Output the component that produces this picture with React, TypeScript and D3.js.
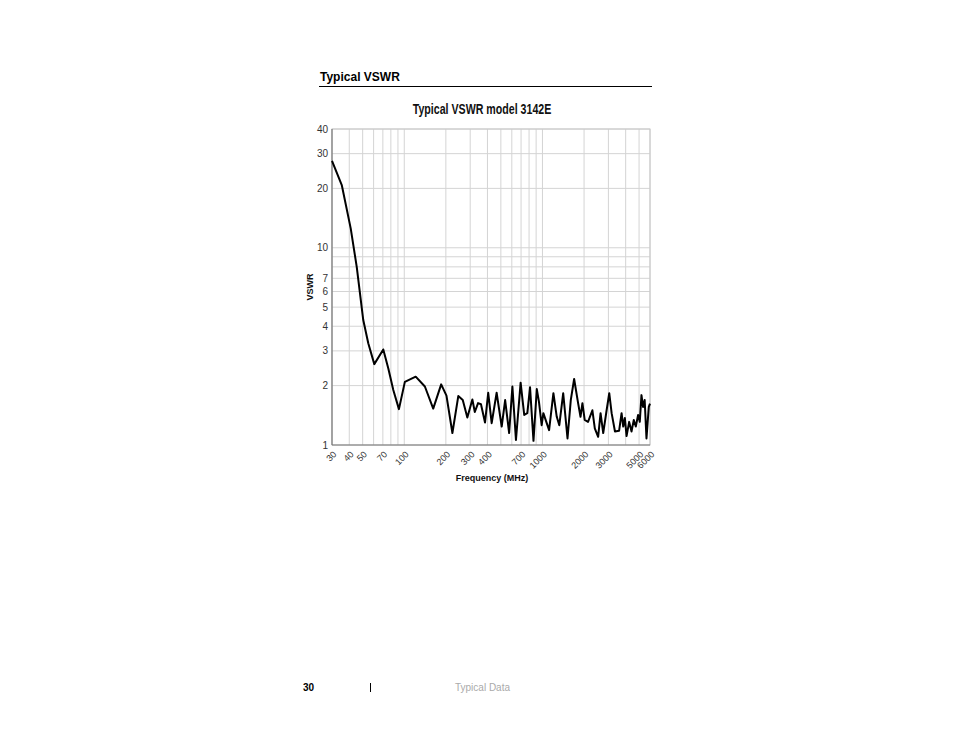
import React from 'react';
import * as d3 from 'd3';

// readings taken off the published plot (MHz, VSWR)
const freqs = [30, 35.3, 41, 45.3, 50.5, 54.9, 60.7, 70.5, 76.6, 83.3, 91.5, 101, 121, 141, 162, 185, 202, 223, 246, 265, 286, 311, 324, 342, 359, 384, 405, 429, 466, 507, 537, 574, 606, 643, 695, 738, 777, 813, 861, 910, 943, 987, 1015, 1117, 1200, 1269, 1324, 1413, 1518, 1603, 1695, 1811, 1885, 1946, 2021, 2137, 2298, 2392, 2529, 2633, 2752, 2912, 3043, 3166, 3348, 3585, 3737, 3840, 3947, 4060, 4240, 4410, 4580, 4736, 4920, 5060, 5205, 5346, 5490, 5658, 5880, 6000];
const vswr = [27.6, 20.8, 12.5, 8.0, 4.3, 3.28, 2.57, 3.05, 2.45, 1.9, 1.52, 2.09, 2.22, 1.98, 1.53, 2.03, 1.78, 1.15, 1.77, 1.69, 1.38, 1.7, 1.47, 1.63, 1.61, 1.3, 1.84, 1.29, 1.84, 1.24, 1.69, 1.15, 1.98, 1.06, 2.07, 1.42, 1.45, 1.96, 1.05, 1.92, 1.66, 1.26, 1.45, 1.19, 1.83, 1.39, 1.26, 1.83, 1.08, 1.69, 2.16, 1.63, 1.39, 1.63, 1.34, 1.31, 1.5, 1.215, 1.1, 1.45, 1.15, 1.5, 1.83, 1.45, 1.17, 1.18, 1.45, 1.24, 1.37, 1.11, 1.31, 1.17, 1.34, 1.24, 1.42, 1.31, 1.79, 1.56, 1.69, 1.08, 1.56, 1.62];

const xTickLabels = [30, 40, 50, 70, 100, 200, 300, 400, 700, 1000, 2000, 3000, 5000, 6000];
const xGrid = [40, 50, 60, 70, 80, 90, 100, 200, 300, 400, 500, 600, 700, 800, 900, 1000, 2000, 3000, 4000, 5000, 6000];
const yTickLabels = [1, 2, 3, 4, 5, 6, 7, 10, 20, 30, 40];
const yGrid = [2, 3, 4, 5, 6, 7, 8, 9, 10, 20, 30, 40];

const font = '"Liberation Sans", Arial, sans-serif';

export default function App() {
  const left = 332, right = 650, top = 129, bottom = 445;

  const x = d3.scaleLog().domain([30, 6000]).range([left, right]);
  const y = d3.scaleLog().domain([1, 40]).range([bottom, top]);

  const pts = freqs.map((f, i) => [f, vswr[i]] as [number, number]);
  const line = d3.line<[number, number]>()
    .x(d => x(d[0]))
    .y(d => y(d[1]));

  return (
    <div style={{ position: 'absolute', left: 0, top: 0 }}>
      <svg width={954} height={738} style={{ display: 'block', background: '#fff' }}>
        {/* page header */}
        <text x={320} y={81} fontFamily={font} fontWeight="bold" fontSize={12} fill="#000">Typical VSWR</text>
        <line x1={319} x2={652} y1={86.5} y2={86.5} stroke="#000" strokeWidth={1} />

        {/* chart title, condensed like the original */}
        <text transform="translate(482,114) scale(0.76,1)" textAnchor="middle" fontFamily={font}
          fontWeight="bold" fontSize={14} fill="#111">
          Typical VSWR model 3142E
        </text>

        {/* grid */}
        {yGrid.map(v => (
          <line key={'gy' + v} x1={left} x2={right} y1={y(v)} y2={y(v)} stroke="#d4d4d4" strokeWidth={1} />
        ))}
        {xGrid.map(f => (
          <line key={'gx' + f} x1={x(f)} x2={x(f)} y1={top} y2={bottom} stroke="#d4d4d4" strokeWidth={1} />
        ))}
        <rect x={left} y={top} width={right - left} height={bottom - top} fill="none" stroke="#c8c8c8" />
        <line x1={left} x2={left} y1={top} y2={bottom} stroke="#777" strokeWidth={1.2} />
        <line x1={left} x2={right} y1={bottom} y2={bottom} stroke="#777" strokeWidth={1.2} />

        {/* y tick labels */}
        {yTickLabels.map(v => (
          <text key={'yl' + v} x={328} y={y(v) + 3.5} textAnchor="end" fontFamily={font} fontSize={10} fill="#333">{v}</text>
        ))}
        <text transform={`translate(313,${(top + bottom) / 2}) rotate(-90)`} textAnchor="middle"
          fontFamily={font} fontWeight="bold" fontSize={9} fill="#111">VSWR</text>

        {/* x tick labels */}
        {xTickLabels.map(f => (
          <text key={'xl' + f} transform={`translate(${x(f) + 5},${bottom + 10}) rotate(-45)`} textAnchor="end"
            fontFamily={font} fontSize={9} fill="#333">{f}</text>
        ))}
        <text x={492} y={481} textAnchor="middle" fontFamily={font} fontWeight="bold" fontSize={9} fill="#111">Frequency (MHz)</text>

        {/* data */}
        <path d={line(pts) || ''} fill="none" stroke="#000" strokeWidth={2} strokeLinejoin="round" />

        {/* page footer */}
        <text x={303} y={691} fontFamily={font} fontWeight="bold" fontSize={10} fill="#000">30</text>
        <line x1={370.5} x2={370.5} y1={683} y2={692} stroke="#000" strokeWidth={1} />
        <text x={455} y={691} fontFamily={font} fontSize={10} fill="#aaa">Typical Data</text>
      </svg>
    </div>
  );
}
